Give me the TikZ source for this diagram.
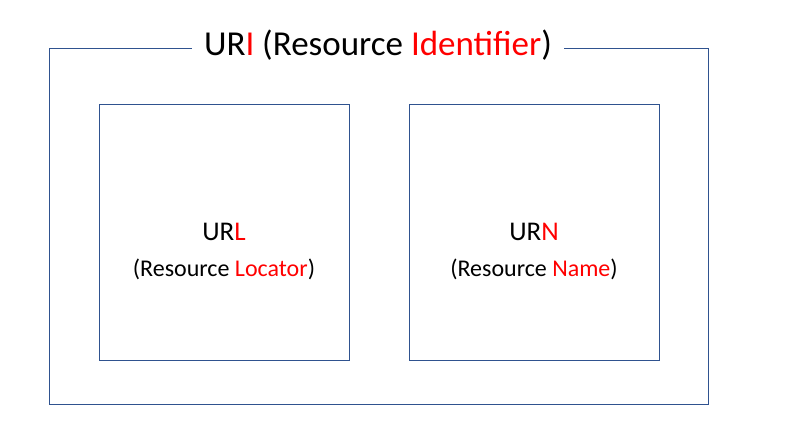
\documentclass[tikz,border=0pt]{standalone}
\usepackage{fontspec}
\setmainfont{Carlito}
\usetikzlibrary{positioning}
\definecolor{boxblue}{RGB}{47,82,143}
\definecolor{keyred}{RGB}{255,0,0}
\newcommand{\key}[1]{\textcolor{keyred}{#1}}

\begin{document}
\begin{tikzpicture}[x=1pt,y=-1pt,
    frame/.style={draw=boxblue, line width=0.9pt, inner sep=0pt},
    part/.style={frame, minimum width=250pt, minimum height=256pt},
    title/.style={fill=white, inner xsep=12pt, inner ysep=2pt, font=\fontsize{35}{40}\selectfont},
    label/.style={align=center, font=\fontsize{24}{36}\selectfont}]
  \useasboundingbox (0,0) rectangle (792,442);
  \node[frame, minimum width=659pt, minimum height=356pt] (uri) at (378.5,226) {};
  \node[title] (uritxt) at (378,45) {UR\key{I} (Resource \key{Identifier})};
  \node[part] (url) at (224,232) {};
  \node[part] (urn) at (534,232) {};
  \node[label] (urltxt) at (224,251) {{\fontsize{27}{30}\selectfont UR\key{L}}\\(Resource \key{Locator})};
  \node[label] (urntxt) at (534,251) {{\fontsize{27}{30}\selectfont UR\key{N}}\\(Resource \key{Name})};
\end{tikzpicture}
\end{document}
